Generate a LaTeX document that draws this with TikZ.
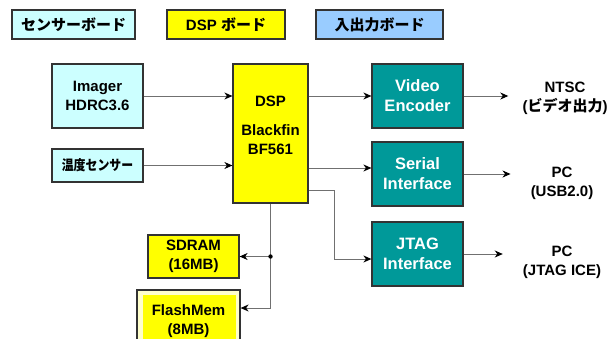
\documentclass[tikz,border=0pt]{standalone}
\usepackage{fontspec}
\setmainfont{Liberation Sans}
\newfontfamily\jp{Noto Sans CJK JP Bold}
\usetikzlibrary{arrows.meta}
\definecolor{sensorcyan}{HTML}{CCFFFF}
\definecolor{ioblue}{HTML}{99CCFF}
\definecolor{dspyellow}{HTML}{FFFF00}
\definecolor{paleyellow}{HTML}{FFFFCC}
\definecolor{blockteal}{HTML}{009999}
\definecolor{wiregray}{HTML}{707070}
\definecolor{edgegray}{HTML}{333333}

\begin{document}
\begin{tikzpicture}[x=1pt,y=-1pt,
    font=\bfseries\fontsize{15}{19}\selectfont,
    box/.style={draw=edgegray,line width=1.2pt,align=center,inner sep=0pt},
    board/.style={box,minimum height=29pt,
        font=\bfseries\fontsize{15}{18}\selectfont},
    block/.style={box,fill=blockteal,text=white,minimum width=91pt,
        minimum height=64pt,font=\bfseries\fontsize{16.5}{20}\selectfont},
    wire/.style={wiregray,line width=1pt,
        -{Stealth[black,length=8pt,width=7pt,inset=2.5pt]}},
    outlabel/.style={align=center,inner sep=0pt}]
        \useasboundingbox (0,0) rectangle (615,338);

        % Boards
        \node [board,fill=sensorcyan,minimum width=123pt] (sboard) at (73.5,24.5)
            {\jp センサーボード};
        \node [board,fill=dspyellow,minimum width=118pt] (dboard) at (226,24.5)
            {DSP {\jp ボード}};
        \node [board,fill=ioblue,minimum width=127pt] (ioboard) at (379.5,24.5)
            {\jp 入出力ボード};

        % Sensors
        \node [box,fill=sensorcyan,minimum width=91pt,minimum height=64pt]
            (imager) at (97.5,96) {Imager\\HDRC3.6};
        \node [box,fill=sensorcyan,minimum width=91pt,minimum height=33pt]
            (temp) at (97.5,165.5)
            {\jp\fontsize{14}{16}\selectfont\scalebox{0.85}[1]{温度センサー}};

        % DSP
        \node [box,fill=dspyellow,minimum width=75pt,minimum height=139pt,
            text depth=16pt] (dsp) at (270.5,133.5) {DSP\\[10pt]Blackfin\\BF561};

        % Interfaces
        \node [block] (video)  at (417.5,96)  {Video\\Encoder};
        \node [block] (serial) at (417.5,174) {Serial\\Interface};
        \node [block] (jtag)   at (417.5,254) {JTAG\\Interface};

        % Outputs
        \node [outlabel] (ntsc) at (565,98)    {NTSC\\({\jp ビデオ出力})};
        \node [outlabel] (usb)  at (562,183.5) {PC\\(USB2.0)};
        \node [outlabel] (ice)  at (562,262.5) {PC\\(JTAG ICE)};

        % Memory
        \node [box,fill=dspyellow,minimum width=91pt,minimum height=43pt]
            (sdram) at (193.5,256.5) {SDRAM\\(16MB)};
        \node [box,fill=paleyellow,minimum width=103pt,minimum height=62pt,
            path picture={\fill [dspyellow]
                ([shift={(6,5)}]path picture bounding box.north west) rectangle
                ([shift={(-4,-5)}]path picture bounding box.south east);}]
            (flash) at (188.5,321) {FlashMem\\(8MB)};

        % Connections
        \draw [wire] (imager) -- (imager -| dsp.west);
        \draw [wire] (temp) -- (temp -| dsp.west);
        \draw [wire] (dsp.east |- video) -- (video);
        \coordinate (sin) at ([yshift=6pt]serial.west);
        \draw [wire] (dsp.east |- sin) -- (sin);
        \coordinate (jtap) at ([yshift=-56.5pt]dsp.east);
        \coordinate (jin) at ([yshift=-5pt]jtag.west);
        \draw [wire] (jtap) -| ([xshift=-37pt]jin) -- (jin);

        \draw [wire] (video) -- ([xshift=-14pt]ntsc.west |- video);
        \draw [wire] (serial) -- ([xshift=-20pt]usb.west |- serial);
        \draw [wire] (jtag) -- ([xshift=-20pt]ice.west |- jtag);

        \coordinate (tap) at (dsp.south |- sdram);
        \coordinate (fin) at ([yshift=13pt]flash.east);
        \draw [wire] (dsp.south) |- (fin);
        \draw [wire] (tap) -- (sdram);
        \fill (tap) circle (2.2pt);

    \end{tikzpicture}
\end{document}
